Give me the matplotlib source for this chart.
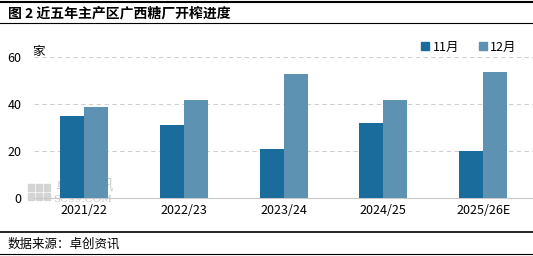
import matplotlib.pyplot as plt
import numpy as np
from matplotlib.lines import Line2D
from matplotlib.patches import Rectangle

plt.rcParams['font.family'] = ['Noto Sans CJK SC', 'DejaVu Sans']

# data
seasons = ['2021/22', '2022/23', '2023/24', '2024/25', '2025/26E']
nov = [35, 31, 21, 32, 20]
dec = [39, 42, 53, 42, 54]
series_names = ['11月', '12月']
colors = ['#1a6c9d', '#5d92b2']
yticks = [0, 20, 40, 60]

fig = plt.figure(figsize=(5.33, 2.56), dpi=100)
ax = fig.add_axes([0.064, 0.2266, 0.936, 0.549])

x = np.arange(len(seasons))
w = 0.24
ax.bar(x - w / 2, nov, width=w, color=colors[0], zorder=3)
ax.bar(x + w / 2, dec, width=w, color=colors[1], zorder=3)

ax.set_xlim(-0.5, len(seasons) - 0.5)
ax.set_ylim(0, 60)
ax.set_yticks(yticks)
ax.set_xticks(x)
ax.set_xticklabels(seasons, fontsize=9)
ax.tick_params(axis='y', labelsize=9, length=0, pad=9)
ax.tick_params(axis='x', length=0, pad=4)
for s in ['top', 'right', 'left']:
    ax.spines[s].set_visible(False)
ax.spines['bottom'].set_color('#c8c8c8')
ax.yaxis.grid(True, linestyle=(0, (4, 3)), color='#cfcfcf', linewidth=0.8, zorder=0)
ax.set_axisbelow(True)

# unit
fig.text(32 / 533, 1 - 51 / 256, '家', fontsize=9, ha='left', va='center')

# watermark, drawn under the bars
px = fig.transFigure
for i in range(3):
    for j in range(2):
        ax.add_artist(Rectangle(((28 + i * 8) / 533, 1 - (191 + j * 9) / 256), 6 / 533, 7 / 256,
                                transform=px, color='#d4d4d4', zorder=1, clip_on=False))
ax.text(55 / 533, 1 - 186 / 256, '卓创资讯', fontsize=10.5, color='#cccccc', ha='left', va='center',
        transform=px, zorder=1, clip_on=False)
ax.text(53 / 533, 1 - 200 / 256, 'SC99.COM', fontsize=7.5, color='#c8c8c8', ha='left', va='center',
        family='DejaVu Serif', transform=px, zorder=1, clip_on=False)

# legend
handles = [Line2D([], [], marker='s', linestyle='', color=c, markersize=6) for c in colors]
fig.legend(handles, series_names, loc='center right', bbox_to_anchor=(528 / 533, 1 - 47 / 256),
           ncol=2, frameon=False, fontsize=9, handletextpad=0.1, columnspacing=1.4,
           handlelength=1.0)

# header and footer
fig.add_artist(Line2D([0, 1], [1 - 2 / 256] * 2, color='black', linewidth=1.5))
fig.add_artist(Line2D([0, 1], [1 - 23 / 256] * 2, color='black', linewidth=0.8))
fig.text(8 / 533, 1 - 13 / 256, '图 2 近五年主产区广西糖厂开榨进度', fontsize=10,
         fontweight='bold', ha='left', va='center')
fig.add_artist(Line2D([0, 1], [1 - 232 / 256] * 2, color='black', linewidth=1.2))
fig.text(8 / 533, 1 - 244 / 256, '数据来源：卓创资讯', fontsize=9, ha='left', va='center')
fig.add_artist(Line2D([0, 1], [1 - 254 / 256] * 2, color='black', linewidth=0.8))

plt.savefig('out.png', dpi=100)
